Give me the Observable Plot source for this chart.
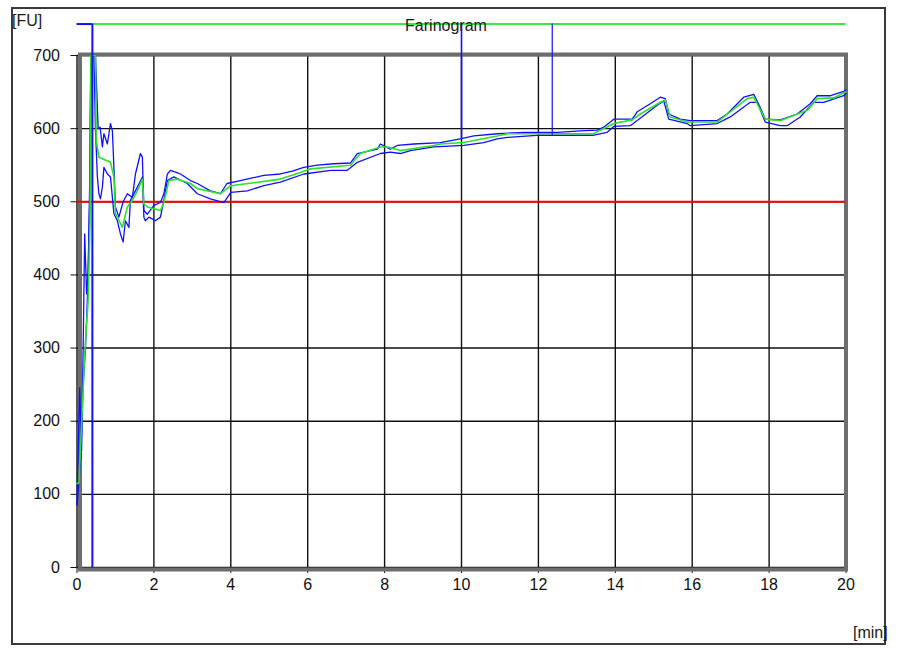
<!DOCTYPE html>
<html>
<head>
<meta charset="utf-8">
<script src="https://cdn.jsdelivr.net/npm/d3@7"></script>
<script src="https://cdn.jsdelivr.net/npm/@observablehq/plot@0.6"></script>
<style>
html, body { margin: 0; padding: 0; background: #fff; }
#wrap { position: relative; width: 900px; height: 648px; overflow: hidden; font-family: "Liberation Sans", Arial, sans-serif; color: #1a1a1a; }
#box { position: absolute; left: 11px; top: 7px; width: 871px; height: 634px; border: 2px solid #3a3a3a; }
#chart { position: absolute; left: 0; top: 0; }
.lbl { position: absolute; font-size: 16px; line-height: 16px; white-space: nowrap; }
#title { left: 446px; top: 18px; transform: translateX(-50%); }
#ylab { left: 12px; top: 13px; }
#xlab { left: 853px; top: 625px; }
</style>
</head>
<body>
<div id="wrap">
  <div id="box"></div>
  <div id="chart"></div>
  <div class="lbl" id="title">Farinogram</div>
  <div class="lbl" id="ylab">[FU]</div>
  <div class="lbl" id="xlab">[min]</div>
</div>
<script>
// ---- data (minutes, FU) ----
const xTicks = [0, 2, 4, 6, 8, 10, 12, 14, 16, 18, 20];
const yTicks = [0, 100, 200, 300, 400, 500, 600, 700];

const upperT = [0, 0.07, 0.12, 0.16, 0.2, 0.25, 0.29, 0.34, 0.36, 0.48, 0.55, 0.6, 0.66, 0.7, 0.79, 0.87, 0.92, 0.96, 1.0, 1.09, 1.2, 1.31, 1.44, 1.52, 1.65, 1.7, 1.74, 1.83, 2.0, 2.17, 2.26, 2.35, 2.43, 2.6, 2.69, 2.95, 3.13, 3.47, 3.73, 3.9, 4.25, 4.5, 4.86, 5.29, 5.6, 5.9, 6.25, 6.68, 7.11, 7.29, 7.81, 7.89, 8.15, 8.33, 8.76, 9.45, 9.97, 10.32, 10.93, 11.62, 12.5, 13.09, 13.53, 13.7, 13.96, 14.44, 14.57, 14.91, 15.17, 15.3, 15.39, 15.69, 15.95, 16.65, 16.91, 17.34, 17.6, 17.77, 17.9, 18.29, 18.73, 19.07, 19.25, 19.6, 19.94, 20];
const upperV = [87, 246, 160, 301, 456, 374, 402, 556, 700, 700, 600, 602, 575, 593, 579, 607, 597, 547, 493, 479, 500, 511, 506, 538, 566, 561, 488, 483, 495, 499, 511, 538, 543, 540, 538, 529, 525, 515, 511, 525, 529, 532, 536, 538, 542, 547, 550, 552, 553, 566, 572, 579, 572, 577, 579, 581, 586, 590, 593, 595, 595, 597, 598, 602, 613, 613, 623, 634, 643, 641, 620, 613, 611, 611, 620, 643, 647, 629, 613, 612, 620, 634, 645, 645, 651, 653];

const lowerT = [0, 0.1, 0.16, 0.22, 0.28, 0.33, 0.36, 0.44, 0.48, 0.53, 0.57, 0.61, 0.66, 0.7, 0.79, 0.87, 0.96, 1.05, 1.13, 1.2, 1.26, 1.35, 1.39, 1.57, 1.7, 1.74, 1.78, 1.87, 2.04, 2.17, 2.26, 2.35, 2.52, 2.87, 3.13, 3.47, 3.82, 4.0, 4.43, 4.86, 5.29, 5.9, 6.6, 7.03, 7.29, 7.89, 8.15, 8.41, 8.67, 9.28, 10.06, 10.58, 10.93, 11.19, 12.05, 13.44, 13.79, 13.96, 14.39, 14.57, 15.09, 15.26, 15.39, 15.87, 15.95, 16.65, 16.99, 17.51, 17.69, 17.9, 18.29, 18.47, 18.81, 19.16, 19.42, 19.94, 20];
const lowerV = [85, 150, 250, 300, 380, 500, 700, 700, 600, 534, 511, 504, 520, 547, 538, 534, 484, 474, 456, 445, 474, 465, 502, 520, 534, 479, 474, 479, 474, 479, 502, 529, 534, 525, 511, 504, 499, 513, 515, 522, 527, 538, 543, 543, 554, 566, 568, 566, 570, 575, 577, 581, 586, 588, 591, 591, 595, 603, 604, 611, 632, 638, 613, 607, 604, 607, 616, 636, 636, 609, 604, 604, 616, 636, 636, 645, 648];

const medianT = [0, 0.05, 0.12, 0.2, 0.29, 0.34, 0.36, 0.48, 0.5, 0.57, 0.87, 0.96, 1.0, 1.18, 1.31, 1.44, 1.57, 1.7, 1.74, 1.83, 2.17, 2.26, 2.39, 2.6, 2.95, 3.13, 3.73, 4.0, 4.6, 5.29, 5.81, 6.07, 7.11, 7.37, 7.89, 8.07, 8.41, 9.28, 9.45, 10.05, 10.93, 11.19, 13.43, 13.96, 14.44, 14.65, 15.17, 15.3, 15.43, 15.87, 16.65, 17.43, 17.6, 17.9, 18.3, 18.99, 19.25, 19.68, 19.98, 20];
const medianV = [115, 115, 197, 292, 365, 474, 700, 700, 584, 561, 554, 534, 484, 465, 493, 502, 515, 531, 497, 493, 488, 499, 529, 531, 525, 518, 511, 522, 526, 531, 540, 545, 550, 566, 575, 575, 570, 577, 579, 581, 590, 593, 593, 607, 612, 620, 636, 639, 616, 609, 609, 641, 643, 613, 611, 625, 641, 642, 650, 650];

const limitLine = [500];          // red reference line
const topLevel = [743];           // upper band line
const markerT = [0.4, 10, 12.36]; // vertical markers
const markerBottom = [0, 586, 590];
const markerWidth = [2, 1.6, 1.2];
const topSplitT = 0.4;

// ---- build tables ----
const upper = upperT.map((t, i) => ({t, v: upperV[i]}));
const lower = lowerT.map((t, i) => ({t, v: lowerV[i]}));
const median = medianT.map((t, i) => ({t, v: medianV[i]}));
const markers = markerT.map((t, i) => ({t, y1: markerBottom[i], y2: topLevel[0], w: markerWidth[i]}));

const chart = Plot.plot({
  width: 900,
  height: 648,
  marginLeft: 76.5,
  marginRight: 54.5,
  marginTop: 55,
  marginBottom: 81,
  style: {fontFamily: "'Liberation Sans', Arial, sans-serif", fontSize: "16px", color: "#111", background: "transparent", overflow: "visible"},
  x: {domain: [0, 20], ticks: xTicks, tickSize: 6, tickPadding: 5, label: null, tickFormat: d => String(d)},
  y: {domain: [0, 700], ticks: yTicks, tickSize: 6, tickPadding: 11, label: null, tickFormat: d => String(d)},
  marks: [
    Plot.gridX(xTicks, {stroke: "#111", strokeOpacity: 1, strokeWidth: 1.4}),
    Plot.gridY(yTicks, {stroke: "#111", strokeOpacity: 1, strokeWidth: 1.4}),
    Plot.frame({stroke: "#6e6e6e", strokeWidth: 4, insetLeft: 3, insetTop: -1, insetBottom: -2}),
    Plot.ruleY(limitLine, {x1: 0, x2: 20, stroke: "#ff0000", strokeWidth: 2}),
    Plot.line(upper, {x: "t", y: "v", stroke: "#1010ff", strokeWidth: 1.3}),
    Plot.line(lower, {x: "t", y: "v", stroke: "#1010ff", strokeWidth: 1.3}),
    Plot.line(median, {x: "t", y: "v", stroke: "#2ee02e", strokeWidth: 1.6}),
    Plot.ruleY(topLevel, {x1: topSplitT, x2: 20, stroke: "#3ee83e", strokeWidth: 2}),
    Plot.ruleY(topLevel, {x1: 0, x2: topSplitT, stroke: "#1010ff", strokeWidth: 2}),
    Plot.ruleX(markers, {x: "t", y1: "y1", y2: "y2", stroke: "#1010ff", strokeWidth: "w"})
  ]
});
document.getElementById("chart").appendChild(chart);
</script>
</body>
</html>
